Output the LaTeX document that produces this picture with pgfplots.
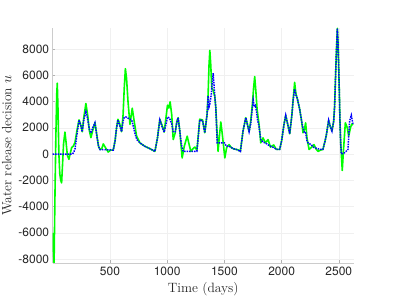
\documentclass[border=0pt]{standalone}
\usepackage{fontspec}
\usepackage{pgfplots}
\usepackage{pgfplotstable}
\pgfplotsset{compat=1.18}
\newfontfamily\tickfont{TeX Gyre Heros}
\definecolor{axgray}{gray}{0.15}
\definecolor{mgreen}{rgb}{0,1,0}
\definecolor{mblue}{rgb}{0,0,1}

\pgfplotstableread{
t u
0 -6000
5 -7000
12 -8300
20 -3000
28 1500
35 4500
40 5400
46 3500
54 0
62 -1500
70 -2000
78 -2200
86 -800
95 800
107 1670
118 800
128 -100
142 -400
152 0
166 500
180 600
195 900
212 1800
230 2600
245 2200
258 1700
272 2800
290 3850
305 3000
320 1800
334 1250
350 1800
369 2400
385 1500
400 600
413 350
428 400
442 770
460 500
485 150
505 300
529 300
545 1000
558 2000
570 2650
585 2300
602 1700
615 3000
625 5000
635 6500
645 5800
658 4000
675 2260
695 3490
712 2500
733 1360
762 850
805 590
849 410
893 200
915 1200
936 2650
955 2200
974 1670
990 2800
1003 3720
1015 3500
1026 3980
1040 3000
1053 1100
1070 1600
1085 2500
1096 2770
1110 1800
1131 -300
1150 600
1175 1360
1190 800
1207 200
1225 400
1242 530
1260 300
1285 2650
1309 2600
1329 1620
1349 3030
1358 4570
1366 6800
1373 7900
1381 6800
1390 5000
1400 4900
1416 4400
1425 3540
1437 1500
1445 200
1455 1200
1469 2440
1482 1500
1504 -300
1520 500
1541 720
1560 500
1576 410
1605 350
1625 300
1640 200
1663 1750
1687 2770
1700 2300
1716 1700
1730 2500
1745 3800
1755 5000
1765 5900
1775 4800
1786 3400
1803 2260
1818 850
1838 1230
1858 850
1882 1100
1902 530
1931 690
1954 350
1983 350
2000 1000
2021 2260
2036 2950
2055 2200
2071 1540
2090 3000
2100 4050
2114 5460
2125 4600
2137 4230
2158 3420
2175 2500
2187 1620
2200 1900
2210 2380
2222 1200
2240 350
2260 500
2283 720
2300 400
2318 200
2340 300
2361 350
2380 1000
2391 1450
2411 2570
2425 2100
2440 1750
2455 2500
2463 3590
2470 5500
2478 7650
2487 9570
2493 8500
2498 6880
2505 4500
2510 2500
2516 1000
2522 0
2530 -1250
2540 200
2557 2380
2574 2000
2586 1360
2603 2050
2615 2300
2623 2200
}\greendata

\pgfplotstableread{
t u
0 0
173 0
185 150
195 400
212 1500
230 2590
245 2200
258 1690
272 2600
290 3230
305 2700
320 1900
334 1600
350 2000
369 2380
385 1400
400 600
413 340
450 340
485 320
529 300
545 1000
558 2000
570 2600
585 2200
602 1700
615 2500
625 2800
640 2820
666 2700
690 2600
705 2100
718 1600
735 1100
762 850
805 590
849 410
893 200
915 1200
936 2600
955 2100
974 1670
990 2300
1003 2820
1020 2750
1040 2300
1053 1700
1070 1700
1085 2400
1096 2770
1110 1800
1125 700
1140 200
1180 200
1220 200
1260 200
1285 2600
1309 2550
1329 1620
1349 3030
1358 4430
1366 3600
1373 3800
1385 4500
1395 5500
1402 6150
1410 5200
1416 4400
1425 3540
1432 2000
1437 850
1460 850
1500 850
1518 590
1541 600
1560 500
1576 410
1605 350
1640 200
1663 1750
1687 2770
1700 2300
1716 1700
1730 2300
1745 3540
1752 4100
1760 3600
1770 3700
1780 3300
1790 2600
1803 2100
1818 1100
1838 900
1858 850
1882 700
1902 600
1931 500
1954 350
1983 350
2000 1000
2021 2260
2036 2950
2055 2200
2071 1540
2090 3000
2100 4050
2114 4950
2125 4500
2137 4230
2158 3420
2175 2500
2187 2000
2200 1600
2210 1620
2222 1000
2231 850
2260 700
2283 500
2318 400
2340 350
2361 350
2380 1000
2391 1450
2411 2570
2425 2100
2440 1750
2455 2500
2463 3590
2470 5500
2478 7650
2487 9570
2493 8500
2498 6880
2505 4500
2510 2500
2516 800
2522 0
2551 100
2580 350
2594 2500
2609 2950
2623 2300
}\bluedata

\begin{document}
\begin{tikzpicture}
\path[use as bounding box] (0,0) rectangle (399pt,299pt);
\begin{axis}[
  at={(52.7pt,36pt)}, anchor=south west,
  width=301pt, height=235pt, scale only axis,
  xmin=0, xmax=2630, ymin=-8300, ymax=9600,
  axis x line*=bottom, axis y line*=left,
  axis line style={gray!40, line width=0.6pt},
  xtick={500,1000,...,2500},
  ytick={-8000,-6000,...,8000},
  grid=major, major grid style={gray!12, line width=0.4pt},
  tick style={gray!60}, major tick length=2.5pt, tick align=inside,
  ticklabel style={font=\tickfont\fontsize{12}{14}\selectfont, text=axgray},
  /pgf/number format/assume math mode=true,
  /pgf/number format/1000 sep={},
  scaled ticks=false,
  xlabel={Time (days)}, ylabel={Water release decision $u$},
  label style={font=\fontsize{13.5}{16}\selectfont, text=axgray},
]
\addplot[mgreen, line width=1.6pt, no markers, line join=round] table[x=t,y=u] {\greendata};
\addplot[mblue, line width=1.5pt, densely dotted, no markers] table[x=t,y=u] {\bluedata};
\end{axis}
\end{tikzpicture}
\end{document}
